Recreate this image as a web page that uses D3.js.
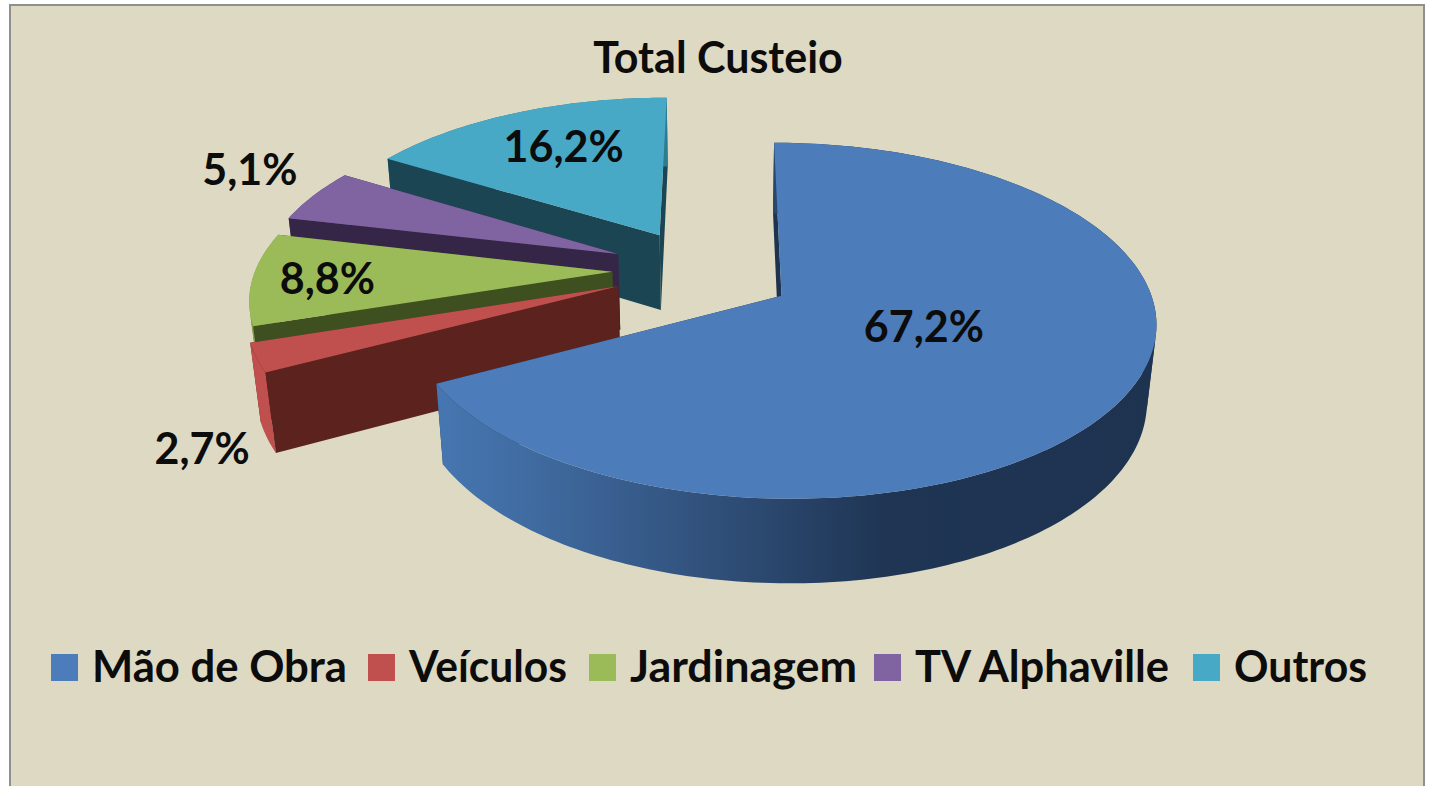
<!DOCTYPE html>
<html>
<head>
<meta charset="utf-8">
<script src="https://cdn.jsdelivr.net/npm/d3@7"></script>
<style>
    html, body { margin: 0; padding: 0; background: #fff; }
    svg { display: block; }
    text { font-family: Lato, "Open Sans", sans-serif; font-weight: 700; fill: #0c0c0c; }
</style>
</head>
<body>
<div id="chart"></div>
<script>
const categories = ['Mão de Obra', 'Veículos', 'Jardinagem', 'TV Alphaville', 'Outros'];
const values = [67.2, 2.7, 8.8, 5.1, 16.2];
const valueLabels = ['67,2%', '2,7%', '8,8%', '5,1%', '16,2%'];
const topColors = ['#4c7cb9', '#c0504d', '#9bbb59', '#8064a2', '#47a9c6'];
const wallColors = ['#1e3350', '#5c221e', '#3f5020', '#352547', '#1c4553'];
const rimColors = ['#4c7cb9', '#c0504d', '#7d9a45', '#5f4a7c', '#2f7c92'];

const width = 1431, height = 786;

// camera for the tilted pie, fitted by eye against the picture
const x0 = 720.8, y0 = 294;
const scaleX = 369.4, scaleY = 174, scaleZ = 79;
const tilt = 0.14, sag = 0.022;
const pieOrigin = [-0.0545, -0.141];
const explode = [0.255, 0.245, 0.245, 0.252, 0.245];
const sliceRadius = [1, 0.997, 0.985, 0.985, 0.985];
const mainNudgeY = 0.02;

// where the data labels sit, measured from each slice's tip
const labelRadius = [0.41, 1.28, 0.78, 1.26, 0.68];
const labelBearing = [115, 229.2, 267, 296.3, 333];

// legend layout
const legendSwatchX = [51, 368, 589, 874, 1193];
const legendTextWidth = [255, 158, 227, 254, 133];

function project(X, Y, Z) {
    const s = 1 / (1 - tilt * Y + sag * Z);
    return [x0 + scaleX * X * s, y0 + (scaleY * Y + scaleZ * Z) * s];
}

const svg = d3.select('#chart').append('svg')
    .attr('width', width)
    .attr('height', height);

svg.append('rect')
    .attr('x', 10).attr('y', 5)
    .attr('width', 1414).attr('height', 790)
    .attr('fill', '#ddd9c3')
    .attr('stroke', '#8f8f8f')
    .attr('stroke-width', 2);

const defs = svg.append('defs');
const mainWall = defs.append('linearGradient')
    .attr('id', 'mainWall')
    .attr('gradientUnits', 'userSpaceOnUse')
    .attr('x1', 440).attr('x2', 1156).attr('y1', 0).attr('y2', 0);
[[0, '#4676b0'], [0.14, '#3f6a9f'], [0.38, '#30507a'], [0.62, '#1f3554'], [1, '#1e3350']]
    .forEach(d => mainWall.append('stop').attr('offset', d[0]).attr('stop-color', d[1]));

const pie = d3.pie().sort(null).value(d => d);
const slices = pie(values);
const line = d3.line();

const polyPath = pts => line(pts) + 'Z';

slices.forEach((slice, i) => {
    slice.mid = (slice.startAngle + slice.endAngle) / 2;
    slice.tip = [
        pieOrigin[0] + explode[i] * Math.sin(slice.mid),
        pieOrigin[1] - explode[i] * Math.cos(slice.mid) + (i === 0 ? mainNudgeY : 0)
    ];
    const steps = Math.max(4, Math.ceil((slice.endAngle - slice.startAngle) / 0.02));
    slice.rim = d3.range(steps + 1).map(k => {
        const a = slice.startAngle + (slice.endAngle - slice.startAngle) * k / steps;
        return [slice.tip[0] + sliceRadius[i] * Math.sin(a), slice.tip[1] - sliceRadius[i] * Math.cos(a)];
    });
});

function radialWall(sg, t, p, color) {
    sg.append('path')
        .attr('d', polyPath([project(t[0], t[1], 0), project(p[0], p[1], 0), project(p[0], p[1], 1), project(t[0], t[1], 1)]))
        .attr('fill', color);
}

// split the rim where it folds over, one polygon across the fold cancels itself
function outerWall(sg, rim, color) {
    const runs = [];
    let lastSign = 0;
    d3.pairs(rim).forEach(([a, b]) => {
        const quad = [project(a[0], a[1], 0), project(b[0], b[1], 0), project(b[0], b[1], 1), project(a[0], a[1], 1)];
        const sign = Math.sign(d3.polygonArea(quad));
        if (sign !== lastSign) runs.push([a]);
        runs[runs.length - 1].push(b);
        lastSign = sign;
    });
    runs.forEach(run => {
        const pts = run.map(p => project(p[0], p[1], 0))
            .concat(run.slice().reverse().map(p => project(p[0], p[1], 1)));
        sg.append('path').attr('d', polyPath(pts)).attr('fill', color);
    });
}

// back slices first, the big one goes over everything
const drawOrder = [4, 3, 2, 1, 0];
const g = svg.append('g');

drawOrder.forEach(i => {
    const slice = slices[i];
    const t = slice.tip, rim = slice.rim;
    const first = rim[0], last = rim[rim.length - 1];
    const sg = g.append('g').attr('class', 'slice');

    radialWall(sg, t, last, wallColors[i]);
    if (i === 0) {
        radialWall(sg, t, first, wallColors[i]);
        outerWall(sg, rim, 'url(#mainWall)');
    } else {
        outerWall(sg, rim, rimColors[i]);
        radialWall(sg, t, first, wallColors[i]);
    }
    const top = [project(t[0], t[1], 0)].concat(rim.map(p => project(p[0], p[1], 0)));
    sg.append('path')
        .attr('d', polyPath(top))
        .attr('fill', topColors[i]);
});

// data labels
svg.append('g').selectAll('text')
    .data(valueLabels)
    .enter()
    .append('text')
    .attr('text-anchor', 'middle')
    .attr('dy', '0.36em')
    .attr('font-size', 43)
    .attr('transform', (d, i) => {
        const a = labelBearing[i] * Math.PI / 180;
        const t = slices[i].tip;
        const p = project(t[0] + labelRadius[i] * Math.sin(a), t[1] - labelRadius[i] * Math.cos(a), 0);
        return 'translate(' + p[0] + ',' + p[1] + ')';
    })
    .text(d => d);

svg.append('text')
    .attr('x', 718)
    .attr('y', 73)
    .attr('text-anchor', 'middle')
    .attr('font-size', 43)
    .text('Total Custeio');

// legend
const legendY = 654, swatch = 27, swatchGap = 14;
const legend = svg.append('g');
categories.forEach((name, i) => {
    legend.append('rect')
        .attr('x', legendSwatchX[i]).attr('y', legendY)
        .attr('width', swatch).attr('height', swatch)
        .attr('fill', topColors[i]);
    legend.append('text')
        .attr('x', legendSwatchX[i] + swatch + swatchGap)
        .attr('y', legendY + 28)
        .attr('font-size', 44)
        .attr('textLength', legendTextWidth[i])
        .attr('lengthAdjust', 'spacingAndGlyphs')
        .text(name);
});
</script>
</body>
</html>
